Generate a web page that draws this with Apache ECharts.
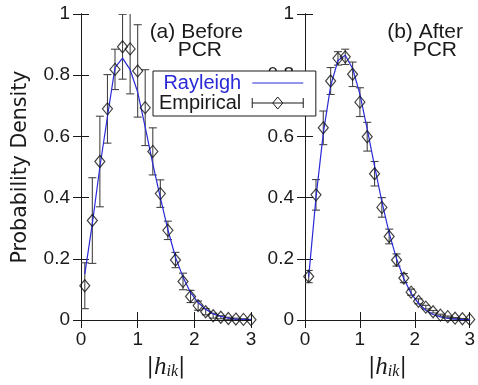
<!DOCTYPE html>
<html><head><meta charset="utf-8">
<script src="https://cdn.jsdelivr.net/npm/echarts@6/dist/echarts.min.js"></script>
<style>html,body{margin:0;padding:0;background:#fff}#c{width:478px;height:385px}</style>
</head><body><div id="c"></div>
<script>
// bin centres of |h_ik|
const hValues = [0.067,0.2,0.333,0.467,0.6,0.733,0.867,1.0,1.133,1.267,1.4,1.533,1.667,1.8,1.933,2.067,2.2,2.333,2.467,2.6,2.733,2.867,3.0];
// (a) Before PCR
const rayleighA  = [0.15,0.315,0.50,0.665,0.825,0.856,0.818,0.745,0.63,0.51,0.40,0.295,0.205,0.14,0.09,0.057,0.035,0.02,0.012,0.006,0.003,0.002,0.001];
const empiricalA = [0.112,0.325,0.518,0.69,0.819,0.893,0.886,0.814,0.694,0.551,0.413,0.293,0.196,0.126,0.077,0.047,0.027,0.014,0.009,0.005,0.003,0.002,0.001];
const errorA     = [0.075,0.14,0.148,0.112,0.066,0.106,0.147,0.151,0.124,0.077,0.045,0.03,0.025,0.027,0.02,0.015,0.01,0.008,0.005,0.004,0.003,0.002,0.001];
// (b) After PCR
const rayleighB  = [0.14,0.40,0.61,0.765,0.848,0.865,0.822,0.738,0.624,0.503,0.387,0.284,0.2,0.135,0.087,0.054,0.032,0.018,0.01,0.005,0.003,0.001,0.001];
const empiricalB = [0.142,0.409,0.628,0.781,0.855,0.86,0.803,0.712,0.599,0.478,0.368,0.273,0.196,0.137,0.091,0.061,0.042,0.027,0.016,0.011,0.006,0.004,0.002];
const errorB     = [0.02,0.05,0.055,0.044,0.022,0.025,0.04,0.047,0.047,0.04,0.032,0.024,0.02,0.015,0.01,0.008,0.006,0.004,0.003,0.002,0.002,0.001,0.001];
const xTicks = [0,1,2,3];
const yTicks = [0,0.2,0.4,0.6,0.8,1];

const FONT = 'Liberation Sans';
const INK = '#1a1a1a';
const BLUE = '#2a2ad8';
const BAR = '#454545';

function yFmt(v){ return (v === 0 || v === 1) ? String(v) : v.toFixed(1); }

function xAxes(gi){
  return [
    {gridIndex:gi, type:'value', min:xTicks[0], max:xTicks[xTicks.length-1], interval:1, position:'bottom',
     axisLine:{lineStyle:{color:INK,width:1}}, axisTick:{inside:true,length:8,lineStyle:{color:INK}},
     splitLine:{show:false},
     axisLabel:{color:INK,fontFamily:FONT,fontSize:19,margin:10},
     name:'{b||}{h|h}{s|ik}{b||}', nameLocation:'middle', nameGap:34,
     nameTextStyle:{rich:{
       b:{fontFamily:'DejaVu Serif',fontSize:22,color:INK,lineHeight:26},
       h:{fontFamily:'Liberation Serif',fontStyle:'italic',fontSize:25,color:INK,lineHeight:26},
       s:{fontFamily:'Liberation Serif',fontStyle:'italic',fontSize:16,color:INK,lineHeight:16,verticalAlign:'bottom'}
     }}},
    {gridIndex:gi, type:'value', min:xTicks[0], max:xTicks[xTicks.length-1], interval:1, position:'top',
     axisLine:{lineStyle:{color:INK,width:1}}, axisTick:{inside:true,length:8,lineStyle:{color:INK}},
     splitLine:{show:false}, axisLabel:{show:false}}
  ];
}
function yAxes(gi, withName){
  const a = {gridIndex:gi, type:'value', min:yTicks[0], max:yTicks[yTicks.length-1], interval:0.2, position:'left',
     axisLine:{show:true,lineStyle:{color:INK,width:1}}, axisTick:{show:true,inside:true,length:8,lineStyle:{color:INK}},
     splitLine:{show:false},
     axisLabel:{color:INK,fontFamily:FONT,fontSize:19,margin:11,formatter:yFmt}};
  if (withName){
    a.name = 'Probability Density'; a.nameLocation='middle'; a.nameGap=50;
    a.nameTextStyle = {fontFamily:'DejaVu Sans',fontSize:20.5,color:INK};
  }
  return [a,
    {gridIndex:gi, type:'value', min:yTicks[0], max:yTicks[yTicks.length-1], interval:0.2, position:'right',
     axisLine:{show:true,lineStyle:{color:INK,width:1}}, axisTick:{show:true,inside:true,length:8,lineStyle:{color:INK}},
     splitLine:{show:false}, axisLabel:{show:false}}];
}

function errRender(params, api){
  const x = api.value(0), y = api.value(1), e = api.value(2);
  const t = api.coord([x, y + e]), b = api.coord([x, y - e]);
  const c = 4;
  const st = {stroke:BAR, lineWidth:1.1};
  return {type:'group', children:[
    {type:'line', shape:{x1:t[0],y1:t[1],x2:b[0],y2:b[1]}, style:st},
    {type:'line', shape:{x1:t[0]-c,y1:t[1],x2:t[0]+c,y2:t[1]}, style:st},
    {type:'line', shape:{x1:b[0]-c,y1:b[1],x2:b[0]+c,y2:b[1]}, style:st}
  ]};
}

function panelSeries(xi, yi, ray, emp, err){
  return [
    {name:'Rayleigh', type:'line', xAxisIndex:xi, yAxisIndex:yi, symbol:'none',
     data: hValues.map((h,i)=>[h, ray[i]]), lineStyle:{color:BLUE,width:1.2}, itemStyle:{color:BLUE}, z:3},
    {name:'Empirical', type:'custom', xAxisIndex:xi, yAxisIndex:yi, clip:true,
     data: hValues.map((h,i)=>[h, emp[i], err[i]]), renderItem: errRender, itemStyle:{color:BAR}, z:2},
    {name:'Empirical', type:'scatter', xAxisIndex:xi, yAxisIndex:yi, symbol:'diamond', symbolSize:[10,12],
     data: hValues.map((h,i)=>[h, emp[i]]),
     itemStyle:{color:'rgba(255,255,255,0)', borderColor:'#111', borderWidth:1.2}, z:4}
  ];
}

const chart = echarts.init(document.getElementById('c'), null, {renderer:'canvas'});
chart.setOption({
  animation:false,
  backgroundColor:'#fff',
  grid:[
    {left:81, top:14, width:170, height:310},
    {left:305, top:14, width:171, height:310}
  ],
  xAxis:[...xAxes(0), ...xAxes(1)],
  yAxis:[...yAxes(0,true), ...yAxes(1,false)],
  legend:{
    orient:'vertical', left:153, top:71, align:'right', itemGap:0, itemWidth:51, itemHeight:12,
    padding:[2,12,3,6], backgroundColor:'#fff', borderColor:INK, borderWidth:1, borderRadius:0,
    selectedMode:false, z:20,
    textStyle:{fontFamily:FONT,fontSize:20,lineHeight:18,color:INK,padding:[0,6,0,0]},
    data:[
      {name:'Rayleigh', textStyle:{color:BLUE},
       itemStyle:{color:'rgba(0,0,0,0)', borderWidth:0, borderColor:'rgba(0,0,0,0)'},
       lineStyle:{color:BLUE, width:1.2}},
      {name:'Empirical', icon:'path://M0,6H51M0,1V11M51,1V11M20.5,6L25.5,0L30.5,6L25.5,12Z',
       itemStyle:{color:'rgba(255,255,255,0)', borderColor:INK, borderWidth:1}}
    ]
  },
  graphic:[
    {type:'text', z:15, style:{text:'(a) Before', x:243, y:32, textAlign:'right', textVerticalAlign:'middle', font:'21px "Liberation Sans"', fill:INK}},
    {type:'text', z:15, style:{text:'PCR', x:222, y:50, textAlign:'right', textVerticalAlign:'middle', font:'21px "Liberation Sans"', fill:INK}},
    {type:'text', z:15, style:{text:'(b) After', x:463, y:32, textAlign:'right', textVerticalAlign:'middle', font:'21px "Liberation Sans"', fill:INK}},
    {type:'text', z:15, style:{text:'PCR', x:457, y:50, textAlign:'right', textVerticalAlign:'middle', font:'21px "Liberation Sans"', fill:INK}}
  ],
  series:[
    ...panelSeries(0,0,rayleighA,empiricalA,errorA),
    ...panelSeries(2,2,rayleighB,empiricalB,errorB)
  ]
});
</script></body></html>
